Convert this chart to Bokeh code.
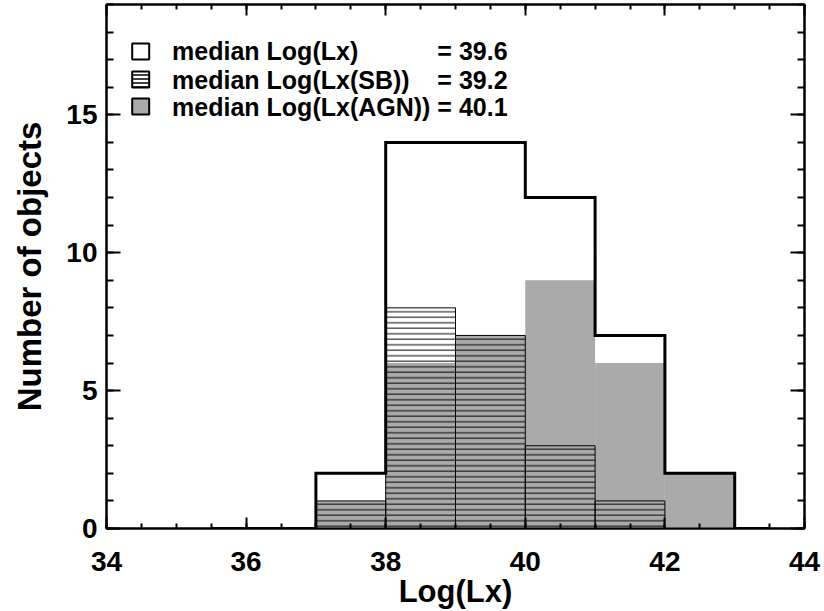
import numpy as np
from bokeh.plotting import figure
from bokeh.models import Range1d, LinearAxis, SingleIntervalTicker, CustomLabelingPolicy
from bokeh.core.properties import value
from bokeh.embed import file_html
from bokeh.resources import INLINE

# Histogram of Log(Lx): bin edges and counts per sample
total_edges = [35.5, 37, 38, 39, 40, 41, 42, 43, 43.5]
total_counts = [0, 2, 14, 14, 12, 7, 2, 0]

sb_edges = [37, 38, 39, 40, 41, 42]
sb_counts = [1, 8, 7, 3, 1]

agn_edges = [37, 38, 39, 40, 41, 42, 43]
agn_counts = [1, 6, 7, 9, 6, 2]

legend_labels = ["median Log(Lx)", "median Log(Lx(SB))", "median Log(Lx(AGN))"]
legend_values = ["= 39.6", "= 39.2", "= 40.1"]

FONT = "Liberation Sans"
GRAY = "#aaaaaa"

p = figure(width=824, height=611, output_backend="svg", toolbar_location=None,
           x_range=Range1d(34, 44), y_range=Range1d(0, 19),
           min_border_left=106, min_border_right=20, min_border_top=4, min_border_bottom=83)
p.grid.visible = False
p.outline_line_color = "black"
p.outline_line_width = 2
p.background_fill_color = "white"
p.border_fill_color = "white"

# AGN: grey filled bars
p.quad(left=agn_edges[:-1], right=agn_edges[1:], bottom=0, top=agn_counts,
       fill_color=GRAY, line_color=None)

# Starbursts: horizontally hatched bars with thin outlines
p.quad(left=sb_edges[:-1], right=sb_edges[1:], bottom=0, top=sb_counts,
       fill_color=None, line_color="black", line_width=1,
       hatch_pattern="horizontal_line", hatch_color="black",
       hatch_scale=5.5, hatch_weight=1)

# Whole sample: thick step outline
e = np.asarray(total_edges, dtype=float)
c = np.asarray(total_counts, dtype=float)
step_x = np.repeat(e, 2)[1:-1]
step_y = np.repeat(c, 2)
p.line(step_x, step_y, line_color="black", line_width=3, line_join="miter")

# Legend block (upper left)
leg_x = 34.49
leg_y = [17.30, 16.28, 15.30]
txt_x = 34.94
val_x = 38.74
p.rect(x=leg_x, y=leg_y[0], width=17, height=16, width_units="screen", height_units="screen",
       fill_color="white", line_color="black", line_width=2)
p.rect(x=leg_x, y=leg_y[1], width=17, height=16, width_units="screen", height_units="screen",
       fill_color="white", line_color="black", line_width=2,
       hatch_pattern="horizontal_line", hatch_color="black", hatch_scale=4, hatch_weight=1.5)
p.rect(x=leg_x, y=leg_y[2], width=17, height=16, width_units="screen", height_units="screen",
       fill_color=GRAY, line_color="black", line_width=2)
p.text(x=[txt_x] * 3, y=leg_y, text=legend_labels,
       text_font=value(FONT), text_font_style="bold", text_font_size="25px",
       text_baseline="middle", text_align="left", text_color="black")
p.text(x=[val_x] * 3, y=leg_y, text=legend_values,
       text_font=value(FONT), text_font_style="bold", text_font_size="25px",
       text_baseline="middle", text_align="left", text_color="black")

# Axes: ticks pointing inwards on all four sides
xt = SingleIntervalTicker(interval=2, num_minor_ticks=4)
yt = SingleIntervalTicker(interval=5, num_minor_ticks=5)


def style_axis(ax, major, minor):
    ax.axis_line_width = 2
    ax.axis_line_color = "black"
    ax.major_tick_in = major
    ax.major_tick_out = 0
    ax.minor_tick_in = minor
    ax.minor_tick_out = 0
    ax.major_tick_line_width = 2
    ax.minor_tick_line_width = 2
    ax.major_tick_line_color = "black"
    ax.minor_tick_line_color = "black"


xa = p.xaxis[0]
xa.ticker = xt
style_axis(xa, 11, 5)
xa.major_label_text_font = FONT
xa.major_label_text_font_style = "bold"
xa.major_label_text_font_size = "28px"
xa.major_label_text_color = "black"
xa.major_label_standoff = 23
xa.axis_label = "Log(Lx)"
xa.axis_label_text_font = FONT
xa.axis_label_text_font_style = "bold"
xa.axis_label_text_font_size = "31px"
xa.axis_label_text_color = "black"
xa.axis_label_standoff = 0

ya = p.yaxis[0]
ya.ticker = yt
style_axis(ya, 14, 7)
ya.major_label_text_font = FONT
ya.major_label_text_font_style = "bold"
ya.major_label_text_font_size = "28px"
ya.major_label_text_color = "black"
ya.major_label_standoff = 9
ya.major_label_orientation = "horizontal"
ya.axis_label = "Number of objects"
ya.axis_label_text_font = FONT
ya.axis_label_text_font_style = "bold"
ya.axis_label_text_font_size = "33px"
ya.axis_label_text_color = "black"
ya.axis_label_standoff = 15

# Mirror axes carry ticks only, no labels
no_labels = CustomLabelingPolicy(code="""
try { return indices.constructor.all_unset(indices.size) } catch (e) {}
try { for (const i of Array.from(indices.ones())) { indices.unset(i) } return indices } catch (e) {}
return indices
""")

top = LinearAxis(ticker=SingleIntervalTicker(interval=2, num_minor_ticks=4))
style_axis(top, 11, 5)
top.major_label_policy = no_labels
top.major_label_text_font_size = "0px"
top.major_label_standoff = 0
p.add_layout(top, "above")

right = LinearAxis(ticker=SingleIntervalTicker(interval=5, num_minor_ticks=5))
style_axis(right, 14, 7)
right.major_label_policy = no_labels
right.major_label_text_font_size = "0px"
right.major_label_standoff = 0
p.add_layout(right, "right")

open("out.html", "w").write(file_html(p, INLINE))
